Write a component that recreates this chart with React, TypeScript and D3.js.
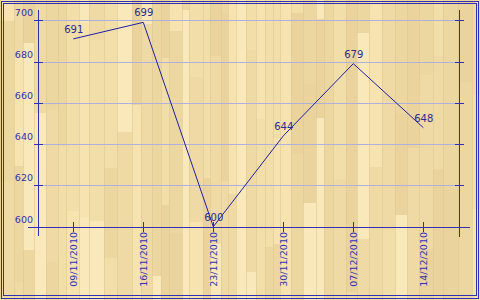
import React from "react";
import * as d3 from "d3";

const dates = ["09/11/2010", "16/11/2010", "23/11/2010", "30/11/2010", "07/12/2010", "14/12/2010"];
const values = [691, 699, 600, 644, 679, 648];
const yTicks = [600, 620, 640, 660, 680, 700];

const W = 480;
const H = 300;
const BLUE = "#3030b4";

// decorative wood texture (deterministic)
function woodPlanks() {
  let seed = 23;
  const rnd = () => {
    seed = (seed * 1103515245 + 12345) % 2147483648;
    return seed / 2147483648;
  };
  const shades = ["#f6e3b0", "#efdaa5", "#ead39c", "#f2dea9", "#f9e8b9", "#edd7a1"];
  const rects: { x: number; y: number; w: number; h: number; c: string }[] = [];
  let x = 0;
  while (x < W) {
    const w = 7 + Math.floor(rnd() * 9);
    let y = -Math.floor(rnd() * 150);
    while (y < H) {
      const h = 90 + Math.floor(rnd() * 160);
      rects.push({ x, y, w, h, c: shades[Math.floor(rnd() * shades.length)] });
      y += h;
    }
    x += w;
  }
  return rects;
}
const planks = woodPlanks();

export default function App() {
  const x = d3.scalePoint<string>().domain(dates).range([73.3, 423.3]);
  const y = d3.scaleLinear().domain([600, 700]).range([226.7, 20.3]);
  const line = d3
    .line<number>()
    .x((_, i) => x(dates[i])!)
    .y((d) => y(d));
  const leftX = 38.5;
  const rightX = 459.5;
  const axisY = Math.round(y(600)) + 0.5;
  const font = "DejaVu Sans, Verdana, sans-serif";

  return (
    <svg
      width={W}
      height={H}
      style={{ position: "absolute", left: 0, top: 0 }}
      shapeRendering="crispEdges"
    >
      <rect x={0} y={0} width={W} height={H} fill="#efdaa5" />
      {planks.map((p, i) => (
        <rect key={i} x={p.x} y={p.y} width={p.w} height={p.h} fill={p.c} />
      ))}
      {planks.map((p, i) => (
        <line key={"l" + i} x1={p.x + 0.5} x2={p.x + 0.5} y1={p.y} y2={p.y + p.h} stroke="#e0c890" strokeOpacity={0.6} />
      ))}
      {/* border */}
      <rect x={1.5} y={1.5} width={477} height={296.5} fill="none" stroke={BLUE} />
      <rect x={3.5} y={3.5} width={472.5} height={292} fill="none" stroke={BLUE} />

      {/* gridlines */}
      {yTicks
        .filter((t) => t !== 600)
        .map((t) => (
          <line key={"g" + t} x1={leftX} x2={rightX} y1={Math.round(y(t)) + 0.5} y2={Math.round(y(t)) + 0.5} stroke="#b0b0dc" />
        ))}

      {/* axes */}
      <line x1={leftX} x2={leftX} y1={10} y2={236} stroke={BLUE} />
      <line x1={rightX} x2={rightX} y1={10} y2={237} stroke={BLUE} />
      <line x1={28} x2={470} y1={axisY} y2={axisY} stroke={BLUE} />
      {yTicks.map((t) => {
        const ty = Math.round(y(t)) + 0.5;
        return (
          <g key={"t" + t}>
            <line x1={34} x2={43} y1={ty} y2={ty} stroke={BLUE} />
            <line x1={455} x2={464} y1={ty} y2={ty} stroke={BLUE} />
            <text x={33} y={ty - 5} textAnchor="end" fontSize={9.5} fontFamily={font} fill={BLUE}>
              {t}
            </text>
          </g>
        );
      })}
      {dates.map((d) => {
        const tx = Math.round(x(d)!) + 0.5;
        return (
          <g key={d}>
            <line x1={tx} x2={tx} y1={222} y2={232} stroke={BLUE} />
            <text
              transform={`translate(${tx + 3.5},${232}) rotate(-90)`}
              textAnchor="end"
              fontSize={9.5}
              fontFamily={font}
              fill={BLUE}
            >
              {d}
            </text>
          </g>
        );
      })}

      {/* series */}
      <path d={line(values)!} fill="none" stroke="#1e1ea8" strokeWidth={1} shapeRendering="auto" />
      {values.map((v, i) => (
        <text
          key={"v" + i}
          x={x(dates[i])! + 0.5}
          y={y(v) - 6}
          textAnchor="middle"
          fontSize={10}
          fontFamily={font}
          fill="#2a2a98"
        >
          {v}
        </text>
      ))}
    </svg>
  );
}
